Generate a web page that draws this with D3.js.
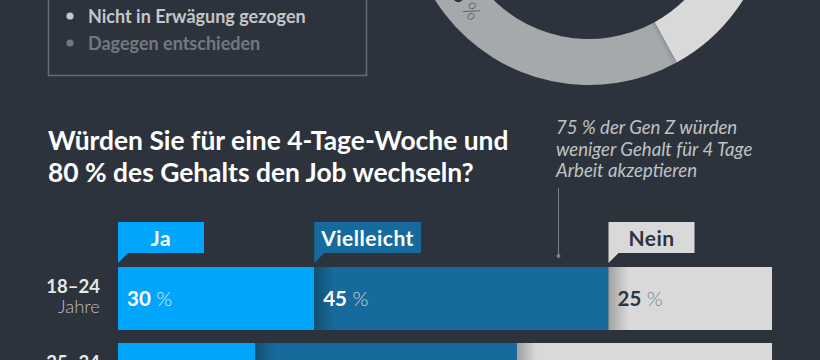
<!DOCTYPE html>
<html><head><meta charset="utf-8">
<script src="https://cdn.jsdelivr.net/npm/d3@7"></script>
<style>
html,body{margin:0;padding:0;background:#2d333c;}
svg{display:block;font-family:Lato,'Noto Sans',sans-serif;}
</style>
</head><body>
<svg id="chart" width="820" height="360"></svg>
<script>
// ---- data ----
const legendLabels = ["Nicht in Erwägung gezogen", "Dagegen entschieden"];
const legendColors = ["#c4c6c9", "#737880"];

const donutLabels = ["Ja", "Vielleicht", "Dagegen entschieden", "Nicht in Erwägung gezogen"];
const donutValues = [28, 14, 45, 13];
const donutColors = ["#00a6fb", "#d9d9d9", "#a6a9ab", "#176b9c"];
const donutShown = [false, false, true, false];

const titleLines = ["Würden Sie für eine 4-Tage-Woche und", "80 % des Gehalts den Job wechseln?"];
const noteLines = ["75 % der Gen Z würden", "weniger Gehalt für 4 Tage", "Arbeit akzeptieren"];

const ageGroups = ["18–24", "25–34"];
const ageSub = ["Jahre", "Jahre"];
const answers = ["Ja", "Vielleicht", "Nein"];
const jaValues = [30, 21];
const vielleichtValues = [45, 40];
const neinValues = [25, 39];
const answerColors = ["#00a6fb", "#176b9c", "#d9d9d9"];

// ---- drawing ----
const svg = d3.select("#chart");
svg.append("rect").attr("width", 820).attr("height", 360).attr("fill", "#2d333c");

const defs = svg.append("defs");
const grad = defs.append("linearGradient").attr("id", "shade").attr("x1", 0).attr("x2", 1).attr("y1", 0).attr("y2", 0);
grad.append("stop").attr("offset", "0%").attr("stop-color", "#000").attr("stop-opacity", 0.26);
grad.append("stop").attr("offset", "100%").attr("stop-color", "#000").attr("stop-opacity", 0);

// legend box
const lg = svg.append("g");
lg.append("rect").attr("x", 48.5).attr("y", -60).attr("width", 318).attr("height", 135.5)
  .attr("fill", "none").attr("stroke", "#676c73").attr("stroke-width", 1.5);
const ly = d3.scalePoint().domain(legendLabels).range([16, 43]);
legendLabels.forEach((l, i) => {
  lg.append("circle").attr("cx", 70).attr("cy", ly(l)).attr("r", 3.6).attr("fill", legendColors[i]);
  lg.append("text").attr("x", 88).attr("y", ly(l) + 6.5).attr("font-size", 18).attr("font-weight", 700)
    .attr("fill", legendColors[i]).text(l);
});

// donut
const dg = svg.append("g").attr("transform", "translate(589,-97)");
const pie = d3.pie().sort(null).value(d => d.v);
const donutData = donutLabels.map((l, i) => ({ l, v: donutValues[i], c: donutColors[i], s: donutShown[i] }));
const arcs = pie(donutData);
const arc = d3.arc().innerRadius(136).outerRadius(182);
dg.selectAll("path.seg").data(arcs).join("path").attr("class", "seg")
  .attr("d", arc).attr("fill", d => d.data.c);
arcs.forEach((a, i) => {
  if (i === 0) return;
  for (let k = 0; k < 8; k++) {
    dg.append("path").attr("d", d3.arc().innerRadius(136).outerRadius(182)
      .startAngle(a.startAngle + k * 0.004).endAngle(a.startAngle + (k + 1) * 0.004)())
      .attr("fill", "#000").attr("opacity", 0.1 * (1 - k / 8));
  }
});
arcs.forEach(a => {
  if (!a.data.s) return;
  const mid = (a.startAngle + a.endAngle) / 2 + 0.005;
  const r = 159;
  const px = r * Math.sin(mid), py = -r * Math.cos(mid);
  const rot = mid * 180 / Math.PI - 180;
  const t = dg.append("text").attr("transform", `translate(${px},${py}) rotate(${rot})`)
    .attr("text-anchor", "middle").attr("dy", "0.35em").attr("font-size", 20);
  t.append("tspan").attr("font-weight", 700).attr("fill", "#2e343e").text(a.data.v);
  t.append("tspan").attr("font-weight", 300).attr("fill", "#50565e").text(" %");
});

// title
const tg = svg.append("g");
titleLines.forEach((l, i) => {
  tg.append("text").attr("x", 48).attr("y", 150 + i * 31.5).attr("font-size", 26.4).attr("font-weight", 700)
    .attr("fill", "#ffffff").text(l);
});

// note
noteLines.forEach((l, i) => {
  svg.append("text").attr("x", 556).attr("y", 134 + i * 21.5).attr("font-size", 18.6).attr("font-style", "italic")
    .attr("font-weight", 400).attr("fill", "#bfc2c6").text(l);
});
svg.append("line").attr("x1", 558.5).attr("x2", 558.5).attr("y1", 188).attr("y2", 256)
  .attr("stroke", "#7d8288").attr("stroke-width", 1);
svg.append("circle").attr("cx", 558.5).attr("cy", 256).attr("r", 2).attr("fill", "#7d8288");

// bars
const x = d3.scaleLinear().domain([0, 100]).range([118, 772]);
const y = d3.scaleBand().domain(ageGroups).range([267, 406]).paddingInner(0.171).paddingOuter(0);
const rows = ageGroups.map((a, i) => ({ age: a, Ja: jaValues[i], Vielleicht: vielleichtValues[i], Nein: neinValues[i] }));
const stack = d3.stack().keys(answers)(rows);

const bg = svg.append("g");
stack.forEach((layer, li) => {
  layer.forEach(d => {
    const x0 = x(d[0]), x1 = x(d[1]), yy = y(d.data.age), h = y.bandwidth();
    bg.append("rect").attr("x", x0).attr("y", yy).attr("width", x1 - x0).attr("height", h).attr("fill", answerColors[li]);
    if (li > 0) {
      bg.append("rect").attr("x", x0).attr("y", yy).attr("width", 20).attr("height", h).attr("fill", "url(#shade)");
    }
    const dark = li === 2;
    const t = bg.append("text").attr("x", x0 + 9).attr("y", yy + h / 2 + 7).attr("font-size", 20.5);
    t.append("tspan").attr("font-weight", 700).attr("fill", dark ? "#2e343e" : "#ffffff").text(d.data[layer.key]);
    t.append("tspan").attr("font-weight", 300).attr("fill", dark ? "#7e8389" : (li === 0 ? "#d6efff" : "#c9d6e0")).text(" %");
  });
});

// row labels
ageGroups.forEach((a, i) => {
  const yy = y(a);
  svg.append("text").attr("x", 100).attr("y", yy + 26).attr("text-anchor", "end").attr("font-size", 18.5)
    .attr("font-weight", 700).attr("fill", "#e6e7e8").text(a);
  svg.append("text").attr("x", 100).attr("y", yy + 46).attr("text-anchor", "end").attr("font-size", 18.5)
    .attr("font-weight", 300).attr("fill", "#b8bbbf").text(ageSub[i]);
});

// tabs (aligned to first row's segment starts)
const tabG = svg.append("g");
stack.forEach((layer, li) => {
  const d = layer[0];
  const x0 = x(d[0]);
  const t = tabG.append("text").attr("y", 246).attr("font-size", 21).attr("font-weight", 700)
    .attr("letter-spacing", 0.5)
    .attr("text-anchor", "middle").attr("fill", li === 2 ? "#2e343e" : "#ffffff").text(layer.key);
  const tw = t.node().getComputedTextLength();
  const w = Math.max(86, tw + 14);
  tabG.insert("path", "text").attr("d", `M${x0},222H${x0 + w}V253H${x0 + 10}L${x0},263Z`).attr("fill", answerColors[li]);
  t.attr("x", x0 + w / 2);
});
</script>
</body></html>
